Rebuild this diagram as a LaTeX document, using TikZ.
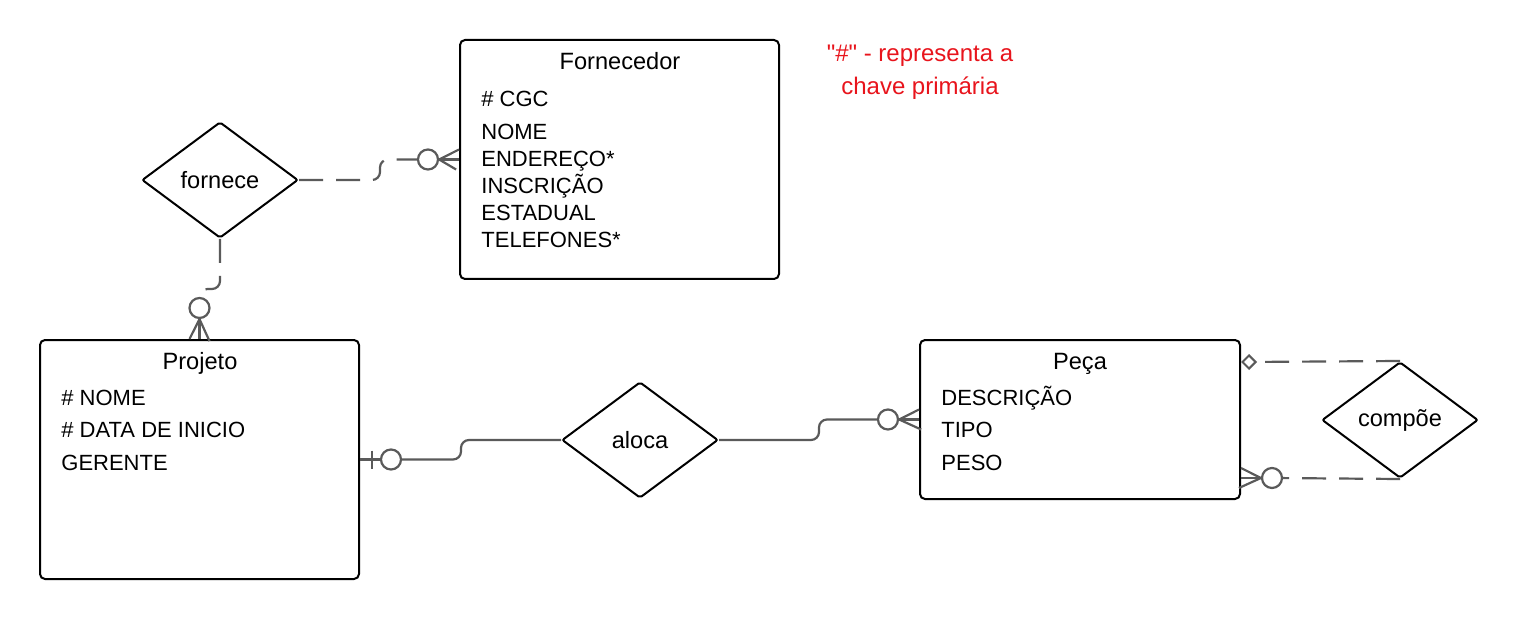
\documentclass[tikz,border=0pt]{standalone}
\usepackage{fontspec}
\setmainfont{Liberation Sans}
\newfontfamily\notefont{Liberation Sans}
\usetikzlibrary{shapes.geometric}
\definecolor{relgray}{HTML}{5A5A5A}
\definecolor{notered}{HTML}{E8141C}
\begin{document}
\begin{tikzpicture}[x=0.5pt,y=-0.5pt,
  entity/.style={draw=black,line width=1pt,rounded corners=2.5pt,inner sep=0pt},
  relship/.style={diamond,draw=black,line width=1pt,rounded corners=1pt,minimum width=78pt,minimum height=58pt,inner sep=0pt,font=\fontsize{11.8}{13}\selectfont},
  enttitle/.style={anchor=base,inner sep=0pt,font=\fontsize{11.8}{13}\selectfont},
  attr/.style={anchor=base west,inner sep=0pt,font=\fontsize{11}{13}\selectfont},
  rel/.style={draw=relgray,line width=1.1pt},
  reldash/.style={rel,dash pattern=on 12pt off 6.5pt,rounded corners=4pt},
  optcirc/.style={circle,draw=relgray,line width=1.1pt,fill=white,minimum size=10pt,inner sep=0pt},
  agg/.style={diamond,draw=relgray,line width=1pt,fill=white,minimum size=7pt,inner sep=0pt}]
\useasboundingbox (0,0) rectangle (1520,620);
\node[entity,minimum width=159.5pt,minimum height=119.5pt] (fornecedor) at (619.5,159.5) {};
\node[enttitle] (fornecedor title) at (620,70) {Fornecedor};
\node[attr] (cgc) at (481,107) {\# CGC};
\node[attr] (nome f) at (481,140) {NOME};
\node[attr] (endereco) at (481,167) {ENDEREÇO*};
\node[attr] (inscricao) at (481,194) {INSCRIÇÃO};
\node[attr] (estadual) at (481,221) {ESTADUAL};
\node[attr] (telefones) at (481,248) {TELEFONES*};
\node[entity,minimum width=159.5pt,minimum height=119.5pt] (projeto) at (199.5,459.5) {};
\node[enttitle] (projeto title) at (200,369) {Projeto};
\node[attr] (nome p) at (61,405) {\# NOME};
\node[attr] (data) at (61,437) {\# DATA DE INICIO};
\node[attr] (gerente) at (61,470) {GERENTE};
\node[entity,minimum width=160pt,minimum height=79.5pt] (peca) at (1080,419.5) {};
\node[enttitle] (peca title) at (1080,369) {Peça};
\node[attr] (descricao) at (941,405) {DESCRIÇÃO};
\node[attr] (tipo) at (941,437) {TIPO};
\node[attr] (peso) at (941,470) {PESO};
\node[relship] (fornece) at (220,180) {fornece};
\node[relship] (aloca) at (640,440) {aloca};
\node[relship] (compoe) at (1400,420) {compõe};
\node[align=center,inner sep=0pt,text=notered,font=\notefont\fontsize{12}{16.5}\selectfont] (nota) at (920,72) {"\#" - representa a\\chave primária};
\node[optcirc] (c1) at (428,159.5) {};
\draw[reldash] (fornece.east) -- (380,180) -- (380,159.5) -- (c1);
\draw[rel] (c1.east) -- (fornecedor.west);
\draw[rel] (fornecedor.west) ++(0,-10) -- (c1.east) -- ++(17,10);
\node[optcirc] (c2) at (199.5,308) {};
\draw[reldash] (fornece.south) -- (220,289) -- (199.5,289) -- (c2);
\draw[rel] (c2.south) -- (projeto.north);
\draw[rel] (projeto.north) ++(-10,0) -- (c2.south) -- ++(10,22);
\node[optcirc] (c3) at (391,459.5) {};
\draw[rel] (projeto.east) -- (c3);
\draw[rel] (projeto.east) ++(12,-9) -- ++(0,18);
\draw[rel,rounded corners=4pt] (c3) -- (461,459.5) -- (461,440) -- (aloca.west);
\node[optcirc] (c4) at (888,419.5) {};
\draw[rel,rounded corners=4pt] (aloca.east) -- (819,440) -- (819,419.5) -- (c4);
\draw[rel] (c4.east) -- (peca.west);
\draw[rel] (peca.west) ++(0,-10) -- (c4.east) -- ++(22,10);
\node[agg] (a5) at (1249,362) {};
\draw[reldash] (compoe.north) -- (a5);
\node[optcirc] (c6) at (1272,478) {};
\draw[reldash] (compoe.south) -- (c6);
\draw[rel] (c6.west) -- (c6.west -| peca.east);
\draw[rel] (c6.west -| peca.east) ++(0,-10) -- (c6.west) -- ++(-22,10);
\end{tikzpicture}
\end{document}
